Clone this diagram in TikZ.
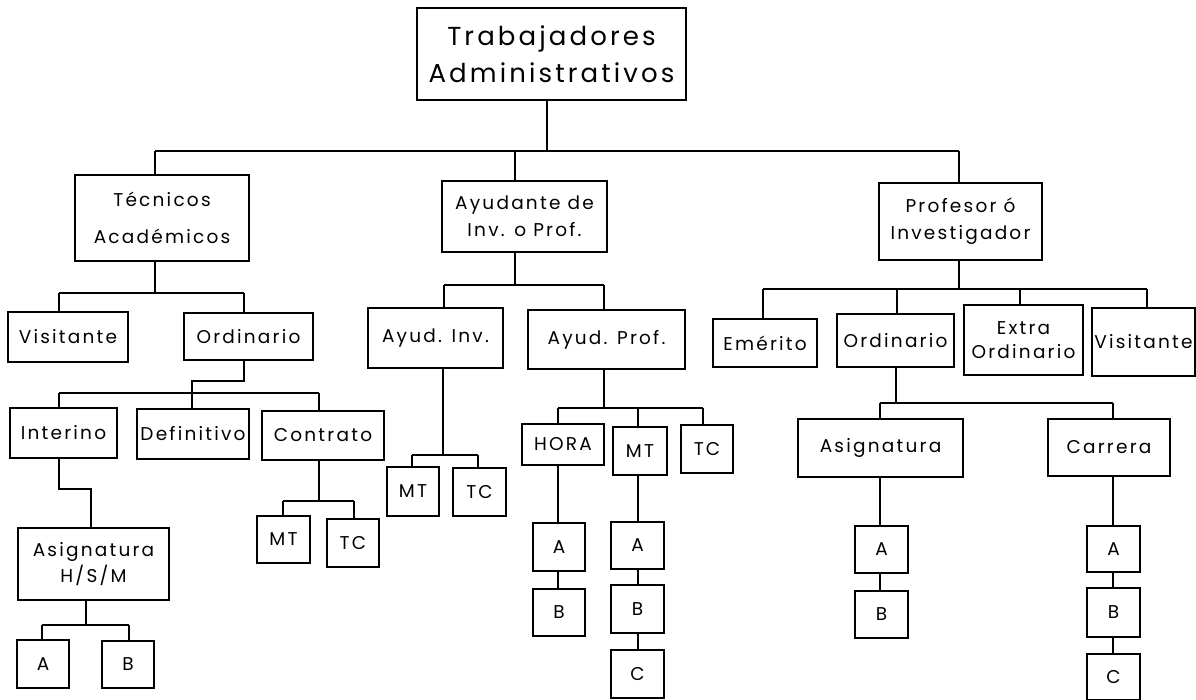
\documentclass[tikz,border=0pt]{standalone}
\usepackage{fontspec}
\setmainfont{Poppins}[LetterSpace=12]
\newcommand\orgbox[6]{\node[box, minimum width={(#4)-(#2)}, minimum height={(#5)-(#3)}] (#1) at ({((#2)+(#4))/2},{((#3)+(#5))/2}) {#6};}
\tikzset{
  box/.style={draw, line width=1.2pt, inner sep=0pt, outer sep=0pt, align=center, font=\fontsize{18.5}{27}\selectfont},
  topbox/.style={box, font=\fontsize{26}{37}\selectfont},
  link/.style={line width=1.2pt}
}
\begin{document}
\begin{tikzpicture}[x=1pt,y=-1pt]
\useasboundingbox (0,0) rectangle (1196,700);
% level 0
\node[topbox, minimum width=269, minimum height=92] (top) at (551.5,54) {Trabajadores\\Administrativos};
% level 1
\orgbox{tec}{75}{175}{249}{261}{Técnicos\\[10pt]Académicos}
\orgbox{ayu}{442}{181}{607}{252}{Ayudante de\\Inv. o Prof.}
\orgbox{pro}{879}{183}{1042}{260}{Profesor ó\\Investigador}
% level 2
\orgbox{vis1}{8}{312}{128}{362}{Visitante}
\orgbox{ord1}{184}{313}{313}{360}{Ordinario}
\orgbox{ayi}{368}{308}{503}{368}{Ayud. Inv.}
\orgbox{ayp}{528}{310}{685}{369}{Ayud. Prof.}
\orgbox{eme}{713}{319}{817}{367}{Emérito}
\orgbox{ord2}{837}{314}{954}{367}{Ordinario}
\orgbox{ext}{964}{305}{1083}{375}{Extra\\[-3pt]Ordinario}
\orgbox{vis2}{1092}{308}{1195}{376}{Visitante}
% level 3
\orgbox{int}{10}{408}{117}{458}{Interino}
\orgbox{def}{137}{409}{249}{459}{Definitivo}
\orgbox{con}{262}{411}{384}{460}{Contrato}
\orgbox{mta}{257}{516}{310}{563}{MT}
\orgbox{tca}{327}{519}{379}{567}{TC}
\orgbox{asga}{18}{528}{169}{600}{Asignatura\\[-1pt]H/S/M}
\orgbox{aa}{17}{640}{69}{688}{A}
\orgbox{ba}{102}{641}{154}{688}{B}
\orgbox{mtb}{387}{467}{439}{516}{MT}
\orgbox{tcb}{453}{468}{506}{516}{TC}
\orgbox{hor}{522}{424}{604}{465}{HORA}
\orgbox{mtc}{613}{427}{667}{475}{MT}
\orgbox{tcc}{681}{425}{733}{473}{TC}
\orgbox{ab}{533}{523}{585}{571}{A}
\orgbox{bb}{533}{589}{585}{636}{B}
\orgbox{ac}{611}{522}{664}{569}{A}
\orgbox{bc}{611}{585}{664}{633}{B}
\orgbox{cc}{611}{650}{664}{698}{C}
\orgbox{asgb}{798}{419}{963}{477}{Asignatura}
\orgbox{car}{1048}{419}{1170}{476}{Carrera}
\orgbox{ad}{855}{526}{908}{573}{A}
\orgbox{bd}{855}{591}{908}{638}{B}
\orgbox{ae}{1087}{526}{1140}{572}{A}
\orgbox{be}{1087}{588}{1140}{637}{B}
\orgbox{ce}{1087}{654}{1140}{700}{C}
% ---- connectors ----
% top -> tec, ayu, pro
\coordinate (b0L) at (155,151); \coordinate (b0R) at (959,151);
\draw[link] (top.south -| 547,0) -- (547,0 |- b0L);
\draw[link] (b0L) -- (b0R);
\draw[link] (b0L) -- (tec.north -| b0L);
\draw[link] (515,0 |- b0L) -- (ayu.north -| 515,0);
\draw[link] (b0R) -- (pro.north -| b0R);
% tec -> vis1, ord1
\coordinate (b1L) at (59,293); \coordinate (b1R) at (244,293);
\draw[link] (tec.south -| 155,0) -- (155,0 |- b1L);
\draw[link] (b1L) -- (b1R);
\draw[link] (b1L) -- (vis1.north -| b1L);
\draw[link] (b1R) -- (ord1.north -| b1R);
% ord1 -> int, def, con
\coordinate (b2L) at (59,393); \coordinate (b2R) at (319,393);
\draw[link] (ord1.south -| 244,0) -- (244,381) -- (192,381) -- (def.north -| 192,0);
\draw[link] (b2L) -- (b2R);
\draw[link] (b2L) -- (int.north -| b2L);
\draw[link] (b2R) -- (con.north -| b2R);
% int -> asga
\draw[link] (int.south -| 59,0) -- (59,489) -- (91,489) -- (asga.north -| 91,0);
% asga -> aa, ba
\coordinate (b3L) at (42,625); \coordinate (b3R) at (129,625);
\draw[link] (asga.south -| 86,0) -- (86,0 |- b3L);
\draw[link] (b3L) -- (b3R);
\draw[link] (b3L) -- (aa.north -| b3L);
\draw[link] (b3R) -- (ba.north -| b3R);
% con -> mta, tca
\coordinate (b4L) at (283,501); \coordinate (b4R) at (354,501);
\draw[link] (con.south -| 319,0) -- (319,0 |- b4L);
\draw[link] (b4L) -- (b4R);
\draw[link] (b4L) -- (mta.north -| b4L);
\draw[link] (b4R) -- (tca.north -| b4R);
% ayu -> ayi, ayp
\coordinate (b5L) at (444,285); \coordinate (b5R) at (604,285);
\draw[link] (ayu.south -| 515,0) -- (515,0 |- b5L);
\draw[link] (b5L) -- (b5R);
\draw[link] (b5L) -- (ayi.north -| b5L);
\draw[link] (b5R) -- (ayp.north -| b5R);
% ayi -> mtb, tcb
\coordinate (b6L) at (412,455); \coordinate (b6R) at (478,455);
\draw[link] (ayi.south -| 443,0) -- (443,0 |- b6L);
\draw[link] (b6L) -- (b6R);
\draw[link] (b6L) -- (mtb.north -| b6L);
\draw[link] (b6R) -- (tcb.north -| b6R);
% ayp -> hor, mtc, tcc
\coordinate (b7L) at (558,408); \coordinate (b7R) at (703,408);
\draw[link] (ayp.south -| 604,0) -- (604,0 |- b7L);
\draw[link] (b7L) -- (b7R);
\draw[link] (b7L) -- (hor.north -| b7L);
\draw[link] (638,0 |- b7L) -- (mtc.north -| 638,0);
\draw[link] (b7R) -- (tcc.north -| b7R);
% hor chain
\draw[link] (hor.south -| 558,0) -- (ab.north -| 558,0);
\draw[link] (ab.south -| 558,0) -- (bb.north -| 558,0);
% mtc chain
\draw[link] (mtc.south -| 638,0) -- (ac.north -| 638,0);
\draw[link] (ac.south -| 638,0) -- (bc.north -| 638,0);
\draw[link] (bc.south -| 638,0) -- (cc.north -| 638,0);
% pro -> eme, ord2, ext, vis2
\coordinate (b8L) at (763,289); \coordinate (b8R) at (1147,289);
\draw[link] (pro.south -| 959,0) -- (959,0 |- b8L);
\draw[link] (b8L) -- (b8R);
\draw[link] (b8L) -- (eme.north -| b8L);
\draw[link] (897,0 |- b8L) -- (ord2.north -| 897,0);
\draw[link] (1020,0 |- b8L) -- (ext.north -| 1020,0);
\draw[link] (b8R) -- (vis2.north -| b8R);
% ord2 -> asgb, car
\coordinate (b9L) at (880,403); \coordinate (b9R) at (1113,403);
\draw[link] (ord2.south -| 896,0) -- (896,0 |- b9L);
\draw[link] (b9L) -- (b9R);
\draw[link] (b9L) -- (asgb.north -| b9L);
\draw[link] (b9R) -- (car.north -| b9R);
% asgb chain
\draw[link] (asgb.south -| 880,0) -- (ad.north -| 880,0);
\draw[link] (ad.south -| 880,0) -- (bd.north -| 880,0);
% car chain
\draw[link] (car.south -| 1113,0) -- (ae.north -| 1113,0);
\draw[link] (ae.south -| 1113,0) -- (be.north -| 1113,0);
\draw[link] (be.south -| 1113,0) -- (ce.north -| 1113,0);
\end{tikzpicture}
\end{document}
